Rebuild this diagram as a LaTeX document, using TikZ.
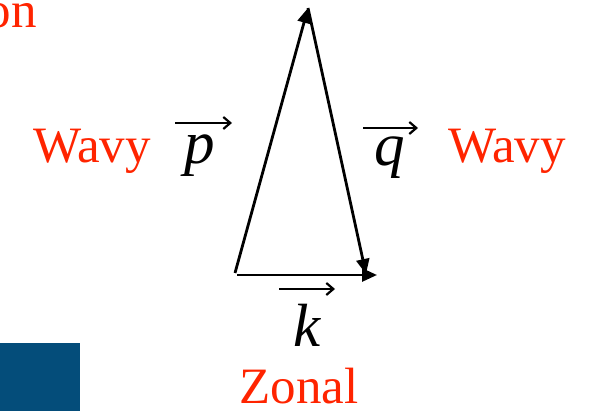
\documentclass[tikz,border=0pt]{standalone}
\usepackage{fontspec}
\setmainfont{Liberation Serif}
\usetikzlibrary{arrows.meta}
\definecolor{labelred}{RGB}{255,36,0}
\definecolor{slideblue}{RGB}{4,77,122}
\tikzset{
  redlabel/.style={inner sep=0pt, anchor=base, text=labelred, font=\fontsize{51}{60}\selectfont},
  veclabel/.style={inner sep=0pt, anchor=base, font=\fontsize{61}{70}\selectfont\itshape},
  vecline/.style={line width=2.8pt, -{Triangle[length=15pt,width=13pt]}},
  ovarrow/.style={line width=2.2pt, -{Straight Barb[length=7pt,width=12pt,line width=2.2pt]}}
}
\begin{document}
\begin{tikzpicture}[x=1pt,y=-1pt]
\useasboundingbox (0,0) rectangle (594,411);
\clip (0,0) rectangle (594,411);
% slide decoration
\fill[slideblue] (0,343) rectangle (80,411);
% labels
\node[redlabel, anchor=base east] (on) at (37,28) {on};
\node[redlabel, anchor=base west] (wl) at (33,163) {Wavy};
\node[redlabel, anchor=base west] (wr) at (448,163) {Wavy};
\node[redlabel, text depth=0pt] (zonal) at (299,403) {Zonal};
\node[veclabel] (p) at (200,164) {p};
\node[veclabel] (q) at (390,166) {q};
\node[veclabel] (k) at (307,346) {k};
\draw[ovarrow] ([shift={(-25,-41)}]p.base) -- ++(57,0);
\draw[ovarrow] ([shift={(-27,-38)}]q.base) -- ++(55,0);
\draw[ovarrow] ([shift={(-28,-57)}]k.base) -- ++(56,0);
% triangle of wave vectors
\coordinate (A) at (235,273);
\coordinate (B) at (308,8);
\coordinate (C) at (366,274);
\coordinate (K0) at (237,275);
\coordinate (K1) at (377,275);
\draw[vecline] (A) -- (B);
\draw[vecline] (B) -- (C);
\draw[vecline] (K0) -- (K1);
\end{tikzpicture}
\end{document}
